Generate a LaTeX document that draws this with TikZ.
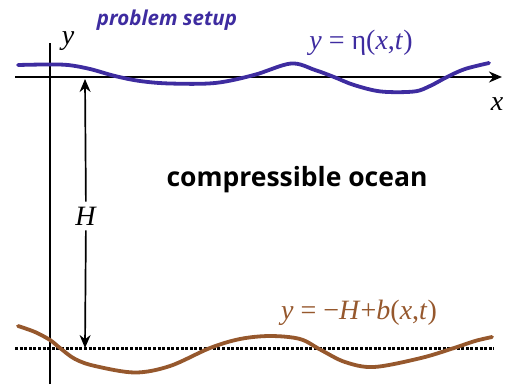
\documentclass[tikz,border=0pt]{standalone}
\usepackage{fontspec}
\setmainfont{Liberation Serif}
\newfontfamily\labsans{Open Sans}
\usetikzlibrary{arrows.meta}
\definecolor{surfblue}{RGB}{62,44,160}
\definecolor{bedbrown}{RGB}{150,88,45}
\tikzset{
  axisline/.style={line width=2.5pt, black},
  surfline/.style={line width=3.8pt, surfblue, line cap=round},
  bedline/.style={line width=3.8pt, bedbrown, line cap=round},
  refline/.style={line width=3pt, black, dash pattern=on 3pt off 1.6pt},
  harrow/.style={line width=1.7pt, black},
  mathlab/.style={inner sep=0pt, font=\fontsize{28}{32}\selectfont},
}
\begin{document}
\begin{tikzpicture}[x=1pt,y=-1pt]
\useasboundingbox (0,0) rectangle (508,384);
% axes
\coordinate (yb) at (50,384);
\coordinate (yt) at (50,43);
\coordinate (xl) at (15,77);
\coordinate (xr) at (502,77);
\draw[axisline] (yb) -- (yt);
\draw[axisline,-{Stealth[length=13pt,width=11pt]}] (xl) -- (xr);
\node[mathlab] (ylab) at (68,41) {\textit{y}};
\node[mathlab] (xlab) at (497,104) {\textit{x}};
% reference depth line
\coordinate (dl) at (15,348);
\coordinate (dr) at (494,348);
\draw[refline] (dl) -- (dr);
% free surface
\draw[surfline] plot[smooth, tension=0.55] coordinates {
 (18,65) (45,64.5) (68,65) (90,69) (115,76) (140,81) (170,83.5) (215,83) (254,75)
 (291,63.5) (315,70) (334,77) (354,85) (381,91.5) (414,91.5) (430,86) (447,77) (465,69) (489,63)};
% bottom
\draw[bedline] plot[smooth, tension=0.55] coordinates {
 (18,326) (35,332) (50,340) (60,348) (75,359) (95,366) (135,372.5) (170,366) (210,348)
 (240,339) (270,336) (300,339) (321,350) (345,362) (374,367) (421,358) (454,348) (475,341) (492,337)};
% depth arrow
\coordinate (ht) at (85,79);
\coordinate (hb) at (85,348);
\node[mathlab, inner sep=5pt] (hlab) at (86,216) {\textit{H}};
\draw[harrow,-{Stealth[length=13pt,width=11pt]}] (hlab) -- (ht);
\draw[harrow,-{Stealth[length=13pt,width=11pt]}] (hlab) -- (hb);
% labels
\node[mathlab, text=surfblue] (etalab) at (361,43) {\textit{y} = η(\textit{x},\textit{t})};
\node[mathlab, text=bedbrown] (blab) at (359,313) {\textit{y} = −\textit{H}+\textit{b}(\textit{x},\textit{t})};
\node[font=\labsans\bfseries\itshape\fontsize{20.5}{24}\selectfont, text=surfblue, inner sep=0pt] (title) at (167,20) {problem setup};
\node[font=\labsans\bfseries\fontsize{26.5}{30}\selectfont, inner sep=0pt] (ocean) at (297,180) {compressible ocean};
\end{tikzpicture}
\end{document}
